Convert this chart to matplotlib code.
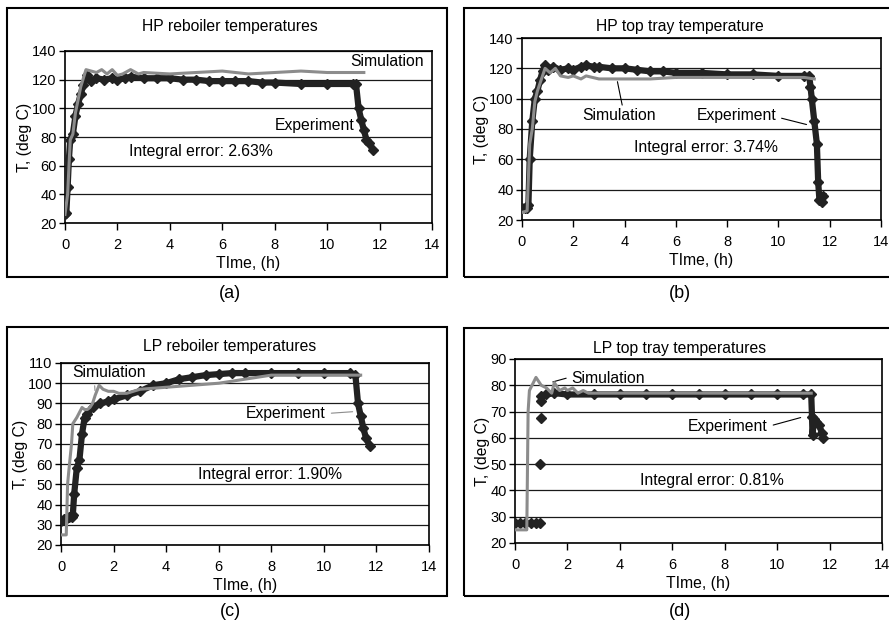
import numpy as np
import matplotlib.pyplot as plt
from matplotlib.patches import Rectangle

plt.rcParams['font.family'] = ['Liberation Sans', 'DejaVu Sans']

nan = np.nan

# (a) HP reboiler
exp_a_t = [0, 0.05, 0.1, 0.15, 0.2, 0.3, 0.4, 0.5, 0.6, 0.7, 0.85, 1.0, 1.2, 1.5, 1.8, 2.0, 2.3, 2.5,
           3.0, 3.5, 4.0, 4.5, 5.0, 5.5, 6.0, 6.5, 7.0, 7.5, 8.0, 9.0, 10.0, 11.0, 11.1, 11.2, 11.3,
           11.4, 11.5, 11.6, 11.75]
exp_a_T = [26, 27, 45, 65, 78, 82, 95, 103, 110, 116, 123, 119, 121, 120, 121, 120, 121, 122,
           121, 121, 121, 120, 120, 119, 119, 119, 119, 118, 118, 117, 117, 117, 117, 100, 92,
           85, 78, 76, 71]
sim_a_t = [0, 0.1, 0.2, 0.3, 0.4, 0.6, 0.8, 1.0, 1.2, 1.4, 1.6, 1.8, 2.0, 2.2, 2.5, 2.8, 3.0,
           4.0, 5.0, 6.0, 7.0, 8.0, 9.0, 10.0, 11.4]
sim_a_T = [26, 40, 78, 82, 97, 115, 127, 126, 125, 127, 124, 127, 123, 124, 127, 124, 125,
           124, 125, 126, 124, 125, 126, 125, 125]

# (b) HP top tray
exp_b_t = [0, 0.1, 0.2, 0.25, 0.3, 0.4, 0.5, 0.6, 0.7, 0.8, 0.9, 1.0, 1.2, 1.5, 1.8, 2.0, 2.3,
           2.5, 2.8, 3.0, 3.5, 4.0, 4.5, 5.0, 5.5, 6.0, 7.0, 8.0, 9.0, 10.0, 11.0, 11.2, 11.25,
           11.3, 11.4, 11.5, 11.55, 11.6, 11.7, 11.75]
exp_b_T = [28, 28, 28, 30, 60, 85, 100, 105, 112, 118, 122, 119, 121, 119, 120, 119, 121,
           122, 121, 121, 120, 120, 119, 118, 118, 117, 117, 116, 116, 115, 115, 115, 108,
           100, 85, 70, 45, 33, 32, 36]
sim_b_t = [0, 0.2, 0.3, 0.4, 0.5, 0.6, 0.8, 0.9, 1.1, 1.3, 1.5, 1.8, 2.0, 2.3, 2.5, 3.0, 4.0,
           5.0, 6.0, 7.0, 8.0, 9.0, 10.0, 11.0, 11.4]
sim_b_T = [25, 26, 70, 80, 98, 105, 115, 120, 117, 120, 115, 114, 115, 113, 115, 113, 113,
           113, 114, 114, 114, 114, 114, 114, 113]

# (c) LP reboiler
exp_c_t = [0, 0.1, 0.2, 0.3, 0.4, 0.45, 0.5, 0.6, 0.7, 0.8, 0.9, 1.0, 1.2, 1.5, 1.8, 2.0, 2.5,
           3.0, 3.5, 4.0, 4.5, 5.0, 5.5, 6.0, 6.5, 7.0, 8.0, 9.0, 10.0, 11.0, 11.2, 11.3, 11.4,
           11.5, 11.6, 11.75]
exp_c_T = [32, 33, 33, 34, 34, 35, 45, 58, 62, 75, 83, 85, 88, 90, 91, 92, 94,
           96, 99, 100, 102, 103, 104, 104.5, 105, 105, 105, 105, 105, 105, 104, 90, 84,
           78, 73, 69]
sim_c_t = [0, 0.2, 0.25, 0.3, 0.4, 0.45, 0.5, 0.6, 0.8, 0.9, 1.0, 1.1, 1.2, 1.3, 1.45, 1.6,
           1.8, 2.0, 2.2, 2.5, 3.0, 4.0, 5.0, 6.0, 7.0, 8.0, 9.0, 10.0, 11.0, 11.4]
sim_c_T = [25, 25, 50, 57, 70, 80, 81, 83, 88, 87, 87, 88, 90, 94, 99, 97,
           96, 96, 95, 95, 97, 98, 99, 100, 102, 104, 104, 104, 104, 104]

# (d) LP top tray
exp_d_t = [0, 0.2, 0.4, 0.6, 0.8, 0.95, nan, 0.97, nan, 0.98, nan, 0.99, 1.0, 1.2, 1.5, 2.0,
           3.0, 4.0, 5.0, 6.0, 7.0, 8.0, 9.0, 10.0, 11.0, 11.3, 11.33, 11.35, 11.4, 11.5,
           11.6, 11.7, 11.75]
exp_d_T = [27.5, 27.5, 27.5, 27.5, 27.5, 27.5, nan, 50, nan, 67.5, nan, 74, 76, 76.5, 77, 76.5,
           76.5, 76.5, 76.5, 76.5, 76.5, 76.5, 76.5, 76.5, 76.5, 76.5, 68, 61, 67, 66,
           65, 62, 60]
sim_d_t = [0, 0.45, 0.5, 0.55, 0.6, 0.8, 1.0, 1.2, 1.4, 1.5, 1.7, 1.9, 2.0, 2.2, 2.4, 2.6,
           2.8, 3.0, 4.0, 5.0, 6.0, 7.0, 8.0, 9.0, 10.0, 11.0, 11.3]
sim_d_T = [25, 25, 70, 78, 79, 83, 80, 79, 77, 81, 78, 79, 78, 79, 77, 78,
           77, 77, 77, 77, 77, 77, 77, 77, 77, 77, 77]

titles = ["HP reboiler temperatures", "HP top tray temperature",
          "LP reboiler temperatures", "LP top tray temperatures"]
errors = ["Integral error: 2.63%", "Integral error: 3.74%",
          "Integral error: 1.90%", "Integral error: 0.81%"]
captions = ["(a)", "(b)", "(c)", "(d)"]

W, H = 889, 624
fig = plt.figure(figsize=(W / 100, H / 100), dpi=100)


def fx(px):
    return px / W


def fy(py):
    return 1 - py / H


# axes boxes in pixels: left, top, right, bottom
boxes = [(65, 51, 432, 223), (522, 38, 881, 220), (61, 363, 429, 545), (515, 359, 882, 543)]
frames = [(7, 8, 447, 277), (464, 8, 895, 277), (7, 327, 447, 596), (464, 328, 895, 596)]
ylims = [(20, 140, 20), (20, 140, 20), (20, 110, 10), (20, 90, 10)]
data = [(exp_a_t, exp_a_T, sim_a_t, sim_a_T), (exp_b_t, exp_b_T, sim_b_t, sim_b_T),
        (exp_c_t, exp_c_T, sim_c_t, sim_c_T), (exp_d_t, exp_d_T, sim_d_t, sim_d_T)]

exp_col = '#222222'
sim_col = '#8c8c8c'
fs = 11.3

axes = []
for i in range(4):
    l, t, r, b = boxes[i]
    ax = fig.add_axes([fx(l), fy(b), fx(r - l), (b - t) / H])
    axes.append(ax)
    et, eT, st, sT = data[i]
    ax.plot(et, eT, color=exp_col, lw=4.5, marker='D', ms=5, zorder=3)
    ax.plot(st, sT, color=sim_col, lw=2.2, zorder=4)
    lo, hi, step = ylims[i]
    ax.set_ylim(lo, hi)
    ax.set_yticks(np.arange(lo, hi + 1, step))
    ax.set_xlim(0, 14)
    ax.set_xticks(range(0, 15, 2))
    ax.grid(axis='y', color='#1a1a1a', lw=0.9)
    ax.set_axisbelow(True)
    ax.tick_params(labelsize=10.5, length=4, width=1, direction='out', pad=2)
    ax.tick_params(axis='x', length=5, pad=6)
    for s in ax.spines.values():
        s.set_linewidth(1.2)
    ax.set_xlabel("TIme, (h)", fontsize=fs, labelpad=3)
    ax.set_ylabel("T, (deg C)", fontsize=fs, labelpad=0)

    fl, ft, fr, fb = frames[i]
    fig.add_artist(Rectangle((fx(fl), fy(fb)), fx(fr - fl), (fb - ft) / H,
                             transform=fig.transFigure, fill=False, ec='black', lw=1.5))
    fig.text(fx((fl + min(fr, W)) / 2 + 3), fy(ft + 19 if i < 2 else ft + 20), titles[i],
             ha='center', va='center', fontsize=fs)
    fig.text(fx((fl + min(fr, W)) / 2 + 3), fy(fb + 16), captions[i],
             ha='center', va='center', fontsize=13)

# annotations
axes[0].text(10.9, 133, "Simulation", fontsize=fs, va='center')
axes[0].text(8.0, 88, "Experiment", fontsize=fs, va='center')
axes[0].text(2.45, 70, errors[0], fontsize=fs, va='center')

axes[1].annotate("Simulation", xy=(3.7, 113), xytext=(2.35, 89), fontsize=fs, va='center',
                 arrowprops=dict(arrowstyle='-', color='black', lw=0.8, shrinkA=0,
                                 relpos=(0.55, 1.0)))
axes[1].annotate("Experiment", xy=(11.2, 82.5), xytext=(6.8, 89), fontsize=fs, va='center',
                 arrowprops=dict(arrowstyle='-', color='black', lw=0.8, relpos=(1.0, 0.4)))
axes[1].text(4.37, 68, errors[1], fontsize=fs, va='center')

axes[2].annotate("Simulation", xy=(1.3, 95), xytext=(0.42, 105.2), fontsize=fs, va='center',
                 arrowprops=dict(arrowstyle='-', color=sim_col, lw=0.8, relpos=(0.3, 0.2)))
axes[2].annotate("Experiment", xy=(11.2, 86), xytext=(7.04, 85), fontsize=fs, va='center',
                 arrowprops=dict(arrowstyle='-', color=sim_col, lw=0.8, relpos=(1.0, 0.5)))
axes[2].text(5.2, 54.7, errors[2], fontsize=fs, va='center')

axes[3].annotate("Simulation", xy=(1.34, 81), xytext=(2.16, 82.7), fontsize=fs, va='center',
                 arrowprops=dict(arrowstyle='-', color='black', lw=0.8, relpos=(0.0, 0.6)))
axes[3].annotate("Experiment", xy=(11.0, 68), xytext=(6.6, 64.3), fontsize=fs, va='center',
                 arrowprops=dict(arrowstyle='-', color='black', lw=0.8, relpos=(1.0, 0.5)))
axes[3].text(4.77, 43.9, errors[3], fontsize=fs, va='center')

fig.savefig("out.png", dpi=100)
